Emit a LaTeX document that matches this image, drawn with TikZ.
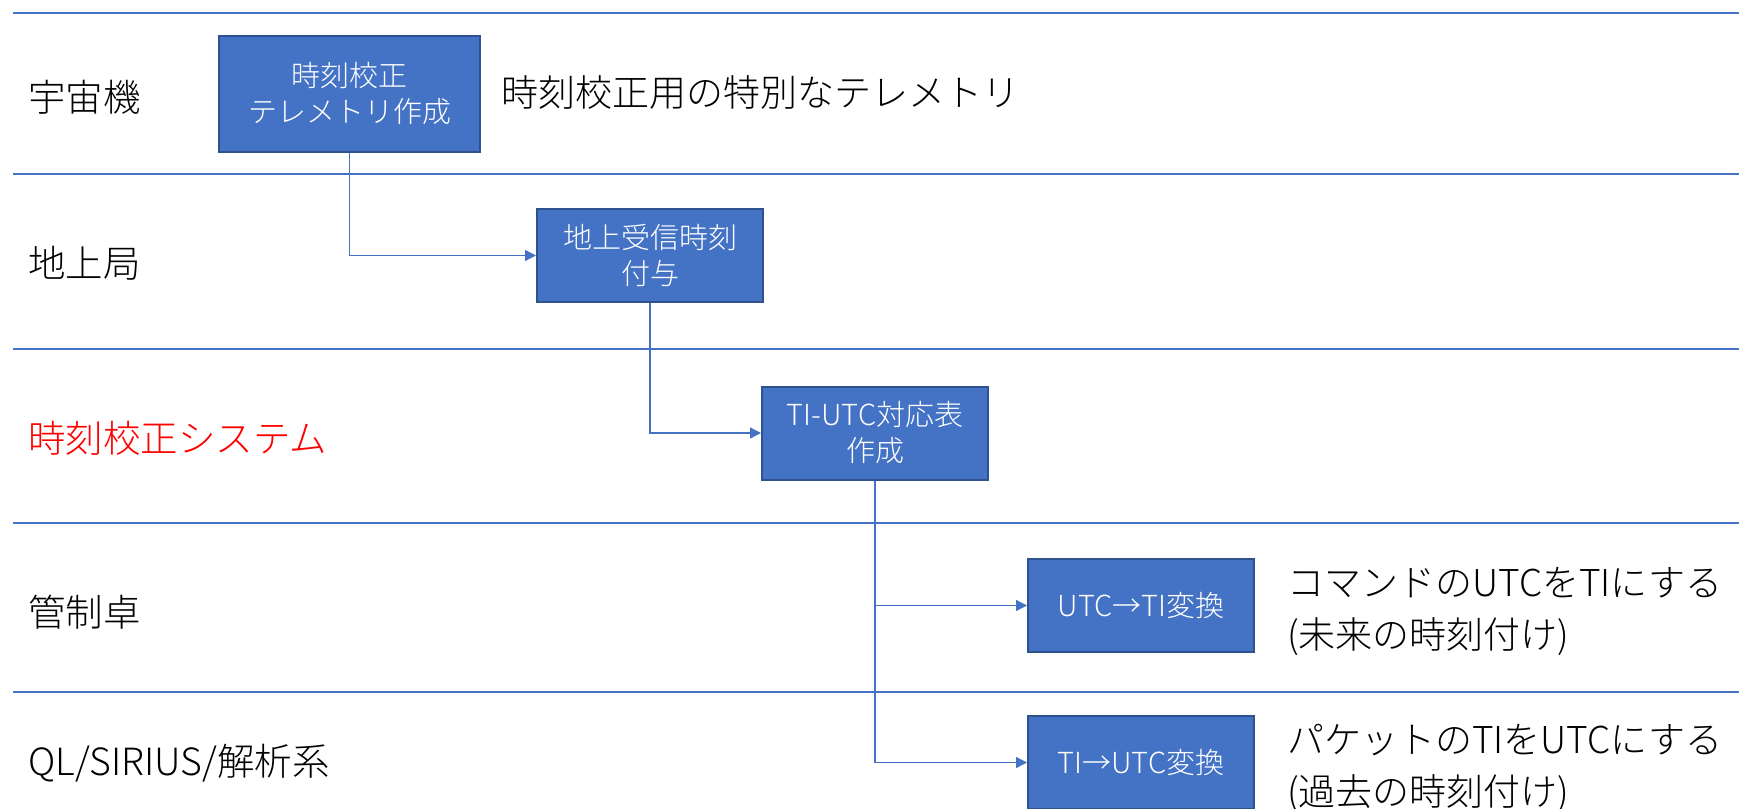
\documentclass[tikz,border=0pt]{standalone}
\usepackage{fontspec}
\setmainfont{Noto Sans CJK JP}[UprightFont=* Light]
\usetikzlibrary{arrows.meta}
\definecolor{boxfill}{HTML}{4472C4}
\definecolor{boxline}{HTML}{2F528F}
\definecolor{lanered}{HTML}{FF0000}
\begin{document}
\begin{tikzpicture}[x=1pt,y=-1pt,
  proc/.style={draw=boxline, line width=2pt, fill=boxfill, text=white,
    minimum width=226pt, minimum height=93pt, inner sep=0pt, align=center,
    font=\fontsize{29}{36}\selectfont},
  lane/.style={anchor=west, inner sep=0pt, font=\fontsize{37.5}{45}\selectfont},
  note/.style={anchor=west, align=left, inner sep=0pt, font=\fontsize{37}{52}\selectfont},
  gridline/.style={draw=boxfill, line width=1.3pt},
  flow/.style={draw=boxfill, line width=1.3pt, -{Triangle[length=11pt,width=11pt]}},
]
\useasboundingbox (0,0) rectangle (1739,808);
% lane separators
\draw[gridline] (13,13) -- (1739,13);
\draw[gridline] (13,174) -- (1739,174);
\draw[gridline] (13,349) -- (1739,349);
\draw[gridline] (13,523) -- (1739,523);
\draw[gridline] (13,692) -- (1739,692);
% lane labels
\node[lane] (l1) at (28,97.5) {宇宙機};
\node[lane] (l2) at (28,263) {地上局};
\node[lane, text=lanered] (l3) at (28,438) {時刻校正システム};
\node[lane] (l4) at (28,612) {管制卓};
\node[lane] (l5) at (28,763) {QL/SIRIUS/解析系};
% process boxes
\node[proc, minimum width=261pt, minimum height=116pt] (b1) at (349.5,94) {時刻校正\\テレメトリ作成};
\node[proc] (b2) at (650,255.5) {地上受信時刻\\付与};
\node[proc] (b3) at (875,433) {TI-UTC対応表\\作成};
\node[proc] (b4) at (1141,605.5) {UTC→TI変換};
\node[proc] (b5) at (1141,762.5) {TI→UTC変換};
% notes
\node[note] (n1) at (501,93) {時刻校正用の特別なテレメトリ};
\node[note] (n4) at (1287,611) {コマンドのUTCをTIにする\\(未来の時刻付け)};
\node[note] (n5) at (1287,768) {パケットのTIをUTCにする\\(過去の時刻付け)};
% connectors
\draw[flow] (b1.south) |- (b2.west);
\draw[flow] (b2.south) |- (b3.west);
\draw[flow] (b3.south) |- (b4.west);
\draw[flow] (b3.south) |- (b5.west);
\end{tikzpicture}
\end{document}
